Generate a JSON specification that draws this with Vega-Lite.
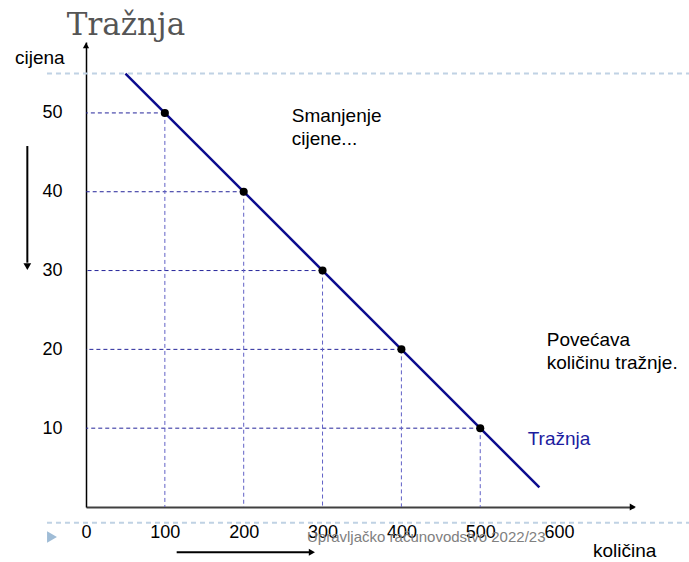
{
  "$schema": "https://vega.github.io/schema/vega-lite/v6.json",
  "width": 548,
  "height": 465,
  "autosize": {"type": "none"},
  "padding": {"left": 86, "top": 42, "right": 55, "bottom": 55},
  "background": "white",
  "config": {
    "view": {"stroke": null},
    "font": "Liberation Sans",
    "axis": {"grid": false, "ticks": false, "tickSize": 0, "labelFont": "Liberation Sans", "labelFontSize": 18, "labelColor": "#000000"}
  },
  "datasets": {
    "demand": [{"q": 50, "p": 55}, {"q": 575, "p": 2.5}],
    "points": [
      {"q": 100, "p": 50},
      {"q": 200, "p": 40},
      {"q": 300, "p": 30},
      {"q": 400, "p": 20},
      {"q": 500, "p": 10}
    ],
    "decor": [
      {"q": -49.5, "q2": 765, "p": 55.0},
      {"q": -49.5, "q2": 765, "p": -1.99}
    ],
    "arrowsV": [{"q": -74.4, "p": 45.8, "p2": 31}],
    "arrowsH": [{"q": 115, "q2": 287, "p": -5.75}],
    "headsDown": [{"q": -74.4, "p": 30.5}],
    "headsRight": [{"q": 286.5, "p": -5.75}, {"q": 693.5, "p": 0}],
    "headsUp": [{"q": 0, "p": 58.55}],
    "title": [{"t": "Tražnja", "q": -24.4, "p": 59.94}],
    "notes": [
      {"t": "cijena", "q": -90, "p": 56.2},
      {"t": "količina", "q": 643, "p": -6.38},
      {"t": ["Smanjenje", "cijene..."], "q": 260.9, "p": 48.85},
      {"t": ["Povećava", "količinu tražnje."], "q": 584.3, "p": 20.47}
    ],
    "label": [{"t": "Tražnja", "q": 560.2, "p": 7.87}],
    "footer": [{"t": "Upravljačko računovodstvo 2022/23", "q": 280.3, "p": -4.4}],
    "slide": [{"q": -43.1, "p": -3.8}]
  },
  "layer": [
    {
      "data": {"name": "decor"},
      "mark": {"type": "rule", "strokeDash": [5, 4], "color": "#c0d2e4", "strokeWidth": 2},
      "encoding": {
        "x": {"field": "q", "type": "quantitative", "scale": {"domain": [0, 695], "nice": false, "zero": false},
          "axis": {"title": null, "values": [0, 100, 200, 300, 400, 500, 600], "labelPadding": 16, "domainColor": "#404040", "domainWidth": 2, "labelFlush": false}},
        "x2": {"field": "q2"},
        "y": {"field": "p", "type": "quantitative", "scale": {"domain": [0, 59], "nice": false, "zero": false},
          "axis": {"title": null, "values": [10, 20, 30, 40, 50], "labelPadding": 24, "domainColor": "#000000", "domainWidth": 1.5, "labelFlush": false}}
      }
    },
    {
      "data": {"name": "points"},
      "mark": {"type": "rule", "strokeDash": [4, 3], "strokeWidth": 1, "color": "#24249a"},
      "encoding": {
        "x": {"field": "q", "type": "quantitative"},
        "x2": {"datum": 0},
        "y": {"field": "p", "type": "quantitative"}
      }
    },
    {
      "data": {"name": "points"},
      "mark": {"type": "rule", "strokeDash": [4, 3], "strokeWidth": 1, "color": "#6060c6"},
      "encoding": {
        "x": {"field": "q", "type": "quantitative"},
        "y": {"field": "p", "type": "quantitative"},
        "y2": {"datum": 0}
      }
    },
    {
      "data": {"name": "demand"},
      "mark": {"type": "line", "color": "#0c0c8e", "strokeWidth": 2.5},
      "encoding": {
        "x": {"field": "q", "type": "quantitative"},
        "y": {"field": "p", "type": "quantitative"}
      }
    },
    {
      "data": {"name": "points"},
      "mark": {"type": "point", "filled": true, "color": "#000000", "size": 65, "opacity": 1},
      "encoding": {
        "x": {"field": "q", "type": "quantitative"},
        "y": {"field": "p", "type": "quantitative"}
      }
    },
    {
      "data": {"name": "arrowsV"},
      "mark": {"type": "rule", "color": "#000000", "strokeWidth": 2},
      "encoding": {
        "x": {"field": "q", "type": "quantitative"},
        "y": {"field": "p", "type": "quantitative"},
        "y2": {"field": "p2"}
      }
    },
    {
      "data": {"name": "arrowsH"},
      "mark": {"type": "rule", "color": "#000000", "strokeWidth": 2},
      "encoding": {
        "x": {"field": "q", "type": "quantitative"},
        "x2": {"field": "q2"},
        "y": {"field": "p", "type": "quantitative"}
      }
    },
    {
      "data": {"name": "headsDown"},
      "mark": {"type": "point", "shape": "triangle-down", "filled": true, "color": "#000000", "size": 60, "opacity": 1},
      "encoding": {
        "x": {"field": "q", "type": "quantitative"},
        "y": {"field": "p", "type": "quantitative"}
      }
    },
    {
      "data": {"name": "headsRight"},
      "mark": {"type": "point", "shape": "triangle-right", "filled": true, "color": "#000000", "size": 50, "opacity": 1},
      "encoding": {
        "x": {"field": "q", "type": "quantitative"},
        "y": {"field": "p", "type": "quantitative"}
      }
    },
    {
      "data": {"name": "headsUp"},
      "mark": {"type": "point", "shape": "triangle-up", "filled": true, "color": "#000000", "size": 40, "opacity": 1},
      "encoding": {
        "x": {"field": "q", "type": "quantitative"},
        "y": {"field": "p", "type": "quantitative"}
      }
    },
    {
      "data": {"name": "slide"},
      "mark": {"type": "point", "shape": "triangle-right", "filled": true, "color": "#9fbcd6", "size": 130, "opacity": 1},
      "encoding": {
        "x": {"field": "q", "type": "quantitative"},
        "y": {"field": "p", "type": "quantitative"}
      }
    },
    {
      "data": {"name": "title"},
      "mark": {"type": "text", "align": "left", "baseline": "alphabetic", "fontSize": 31, "color": "#555555", "font": "DejaVu Serif"},
      "encoding": {
        "x": {"field": "q", "type": "quantitative"},
        "y": {"field": "p", "type": "quantitative"},
        "text": {"field": "t"}
      }
    },
    {
      "data": {"name": "notes"},
      "mark": {"type": "text", "align": "left", "baseline": "alphabetic", "fontSize": 19, "lineHeight": 23, "color": "#000000", "font": "Liberation Sans"},
      "encoding": {
        "x": {"field": "q", "type": "quantitative"},
        "y": {"field": "p", "type": "quantitative"},
        "text": {"field": "t"}
      }
    },
    {
      "data": {"name": "label"},
      "mark": {"type": "text", "align": "left", "baseline": "alphabetic", "fontSize": 19, "color": "#1c1ca0", "font": "Liberation Sans"},
      "encoding": {
        "x": {"field": "q", "type": "quantitative"},
        "y": {"field": "p", "type": "quantitative"},
        "text": {"field": "t"}
      }
    },
    {
      "data": {"name": "footer"},
      "mark": {"type": "text", "align": "left", "baseline": "alphabetic", "fontSize": 15, "color": "#808080", "font": "Liberation Sans"},
      "encoding": {
        "x": {"field": "q", "type": "quantitative"},
        "y": {"field": "p", "type": "quantitative"},
        "text": {"field": "t"}
      }
    }
  ]
}
